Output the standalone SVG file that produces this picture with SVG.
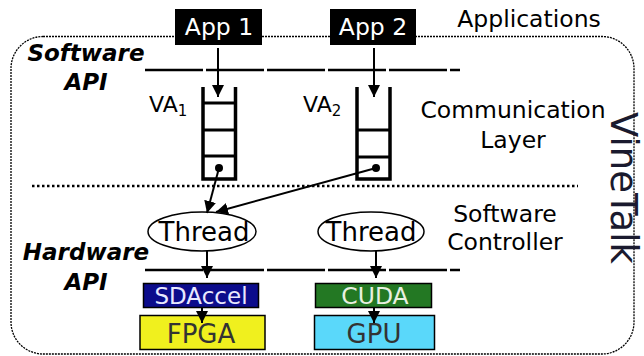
<svg xmlns="http://www.w3.org/2000/svg" width="644" height="356" viewBox="0 0 644 356">
<defs>
<marker id="ah2" viewBox="0 0 10 10" refX="10" refY="5" markerWidth="12" markerHeight="12" orient="auto" markerUnits="userSpaceOnUse">
<path d="M0,0 L10,5 L0,10 z" fill="#000"/>
</marker>
</defs>
<style>
text{font-family:"DejaVu Sans",sans-serif;}
.bi{font-weight:bold;font-style:italic;font-size:23px;fill:#000;text-anchor:middle;}
.lbl{font-size:23.5px;fill:#000;text-anchor:middle;}
.api{stroke:#000;stroke-width:2.5;stroke-dasharray:58 3;fill:none;}
.q{stroke:#000;stroke-width:3.5;fill:none;}
.qr{stroke:#000;stroke-width:3;fill:none;}
.con{stroke:#000;stroke-width:2;fill:none;}
.box{stroke:#000;stroke-width:1.5;}
</style>
<rect x="11" y="36.5" width="623" height="317.5" rx="32" ry="32" fill="none" stroke="#000" stroke-width="1.3" stroke-dasharray="2 1"/>
<line x1="32" y1="186" x2="578" y2="186" stroke="#000" stroke-width="2.5" stroke-dasharray="2.5 2.5"/>
<line class="api" x1="145" y1="70" x2="460" y2="70"/>
<line class="api" x1="145" y1="270" x2="460" y2="270"/>
<text class="lbl" x="529" y="27">Applications</text>
<text class="bi" x="86" y="61">Software</text>
<text class="bi" x="86" y="90">API</text>
<text class="bi" x="86" y="260">Hardware</text>
<text class="bi" x="86" y="290">API</text>
<text class="lbl" x="513" y="118">Communication</text>
<text class="lbl" x="513" y="148">Layer</text>
<text class="lbl" x="505" y="222">Software</text>
<text class="lbl" x="505" y="250">Controller</text>
<text x="623" y="188" font-size="37" fill="#1a1a2e" text-anchor="middle" transform="rotate(90 623 188)" dominant-baseline="central">VineTalk</text>
<g id="app1">
<rect x="175" y="9" width="87" height="36" fill="#000"/>
<text x="219" y="35" font-size="23.5" fill="#fff" text-anchor="middle">App 1</text>
</g>
<g id="app2">
<rect x="330" y="9" width="86" height="36" fill="#000"/>
<text x="373" y="35" font-size="23.5" fill="#fff" text-anchor="middle">App 2</text>
</g>
<g id="va1">
<text x="149" y="112" font-size="22" fill="#000">VA<tspan font-size="15" dy="4">1</tspan></text>
<path class="q" d="M203,87 V179 H235.5 V87"/>
<line class="qr" x1="203" y1="103" x2="235.5" y2="103"/>
<line class="qr" x1="203" y1="130" x2="235.5" y2="130"/>
<line class="qr" x1="203" y1="156" x2="235.5" y2="156"/>
<circle cx="219" cy="168" r="4" fill="#000"/>
</g>
<g id="va2">
<text x="303" y="112" font-size="22" fill="#000">VA<tspan font-size="15" dy="4">2</tspan></text>
<path class="q" d="M357,87 V179 H390 V87"/>
<line class="qr" x1="357" y1="130" x2="390" y2="130"/>
<line class="qr" x1="357" y1="157" x2="390" y2="157"/>
<circle cx="376" cy="168" r="4" fill="#000"/>
</g>
<g id="thread1">
<ellipse cx="202" cy="231.5" rx="54" ry="19.5" fill="#fff" stroke="#000" stroke-width="1.5"/>
<text x="204" y="241" font-size="26" fill="#000" text-anchor="middle">Thread</text>
</g>
<g id="thread2">
<ellipse cx="371" cy="231.5" rx="53" ry="19.5" fill="#fff" stroke="#000" stroke-width="1.5"/>
<text x="371" y="241" font-size="26" fill="#000" text-anchor="middle">Thread</text>
</g>
<g id="fpga">
<rect class="box" x="140" y="315.5" width="125" height="34" fill="#f0f01e"/>
<text x="201" y="343" font-size="26" fill="#333" text-anchor="middle">FPGA</text>
</g>
<g id="sdaccel">
<rect class="box" x="143.5" y="283.5" width="115" height="24" fill="#0c0c8c"/>
<text x="201" y="304" font-size="23" fill="#e8e8ff" text-anchor="middle">SDAccel</text>
</g>
<g id="gpu">
<rect class="box" x="314.5" y="315.5" width="120" height="34" fill="#5ad8fa"/>
<text x="374" y="343" font-size="26" fill="#333" text-anchor="middle">GPU</text>
</g>
<g id="cuda">
<rect class="box" x="315.5" y="283.5" width="116" height="24" fill="#237823"/>
<text x="375" y="304" font-size="23.5" fill="#e8f0e0" text-anchor="middle">CUDA</text>
</g>
<g id="connectors">
<line class="con" x1="218" y1="48" x2="218" y2="97" marker-end="url(#ah2)"/>
<line class="con" x1="374" y1="48" x2="374" y2="97" marker-end="url(#ah2)"/>
<line class="con" x1="219" y1="168" x2="207" y2="213" marker-end="url(#ah2)"/>
<line class="con" x1="376" y1="168" x2="216" y2="212" marker-end="url(#ah2)"/>
<line class="con" x1="207" y1="251" x2="207" y2="278" marker-end="url(#ah2)"/>
<line class="con" x1="376" y1="251" x2="376" y2="278" marker-end="url(#ah2)"/>
<line class="con" x1="202" y1="307" x2="202" y2="323" marker-end="url(#ah2)"/>
<line class="con" x1="374" y1="307" x2="374" y2="323" marker-end="url(#ah2)"/>
</g>
</svg>
